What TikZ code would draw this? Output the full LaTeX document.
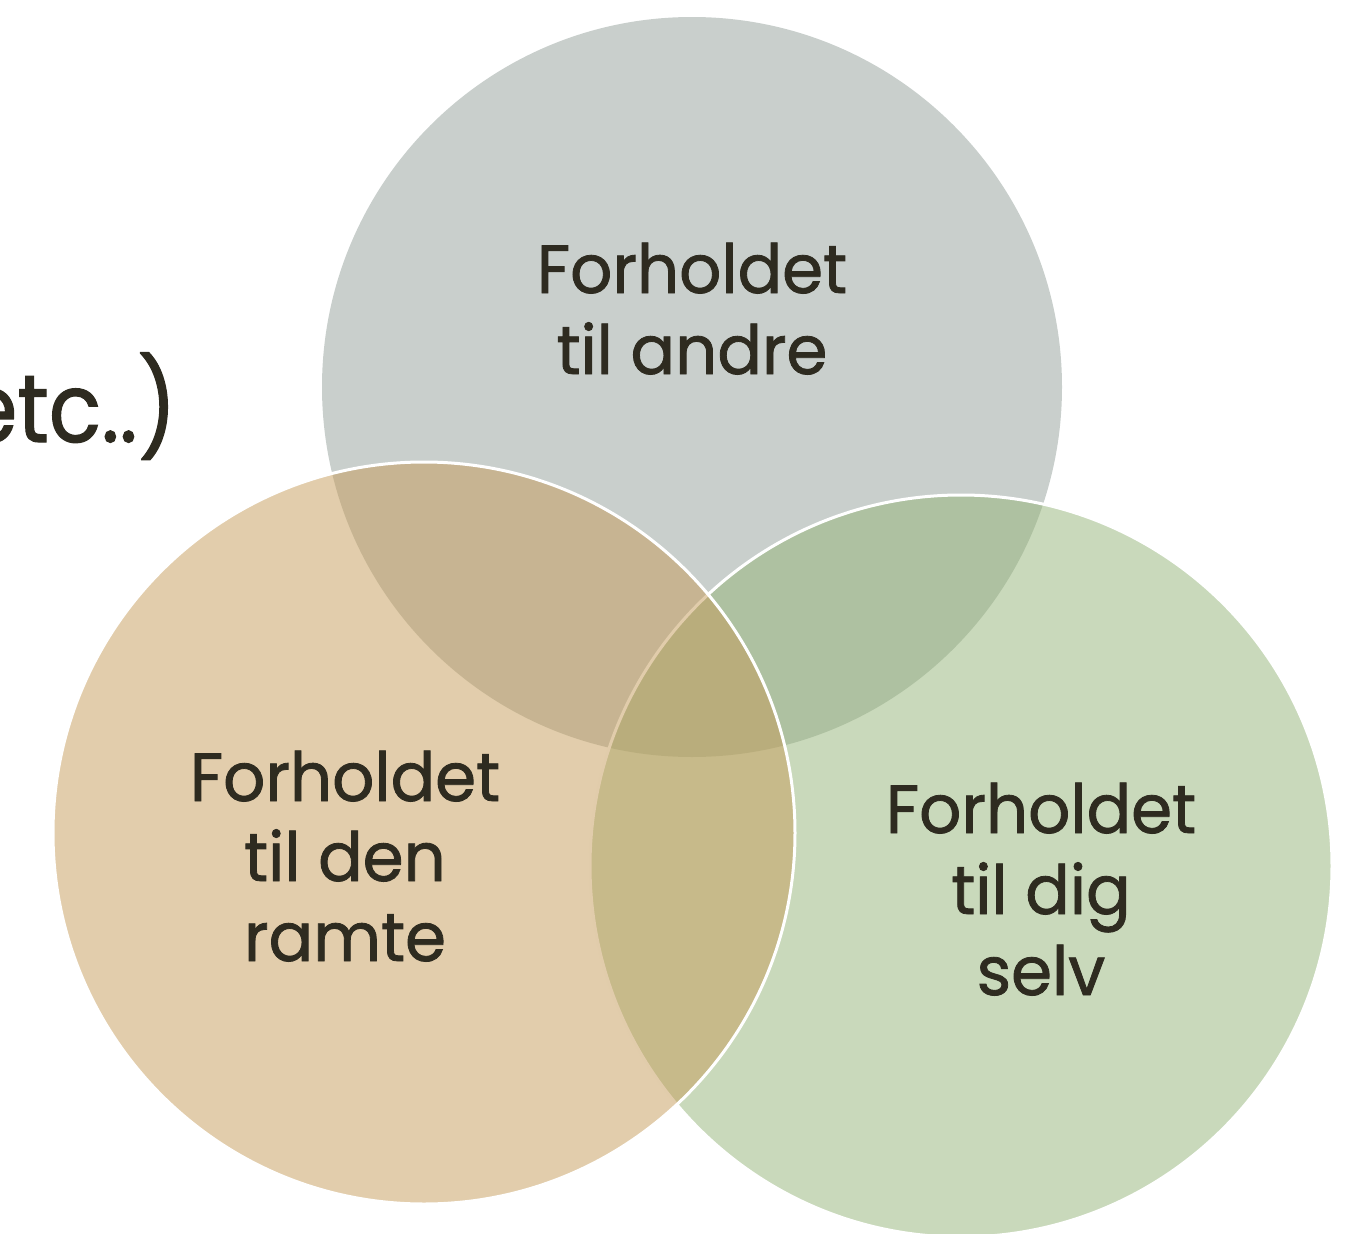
\documentclass[tikz,border=0pt]{standalone}
\usepackage{fontspec}
\newfontfamily\venn[FakeBold=1.2,FakeStretch=0.97]{Poppins}
\newfontfamily\vennetc[FakeBold=1.2,FakeStretch=0.9]{Poppins}
\definecolor{txt}{RGB}{46,43,32}
\definecolor{topc}{RGB}{147,159,153}
\definecolor{tanc}{RGB}{197,155,89}
\definecolor{grnc}{RGB}{147,179,119}
\tikzset{
  lbl/.style={anchor=base, inner sep=0pt, text=txt, font=\venn\fontsize{68}{80}\selectfont},
  ring/.style={fill opacity=0.5, draw=white, line width=3pt},
}
\begin{document}
\begin{tikzpicture}[x=1pt,y=-1pt]
\useasboundingbox (0,0) rectangle (1353,1234);
\clip (0,0) rectangle (1353,1234);
\fill[fill=topc, fill opacity=0.5] (692,387) circle[radius=370pt];
\filldraw[ring, fill=grnc] (961,866) circle[radius=371pt];
\filldraw[ring, fill=tanc] (424,833) circle[radius=371pt];
\node[lbl] (a1) at (692,293) {Forholdet};
\node[lbl] (a2) at (692,374) {til andre};
\node[lbl] (b1) at (345,801) {Forholdet};
\node[lbl] (b2) at (345,881) {til den};
\node[lbl] (b3) at (345,961) {ramte};
\node[lbl] (c1) at (1041,833) {Forholdet};
\node[lbl] (c2) at (1041,914) {til dig};
\node[lbl] (c3) at (1041,995) {selv};
\node[anchor=base east, inner sep=0pt, text=txt, font=\vennetc\fontsize{96}{110}\selectfont] (etc) at (177,442) {etc..)};
\end{tikzpicture}
\end{document}
